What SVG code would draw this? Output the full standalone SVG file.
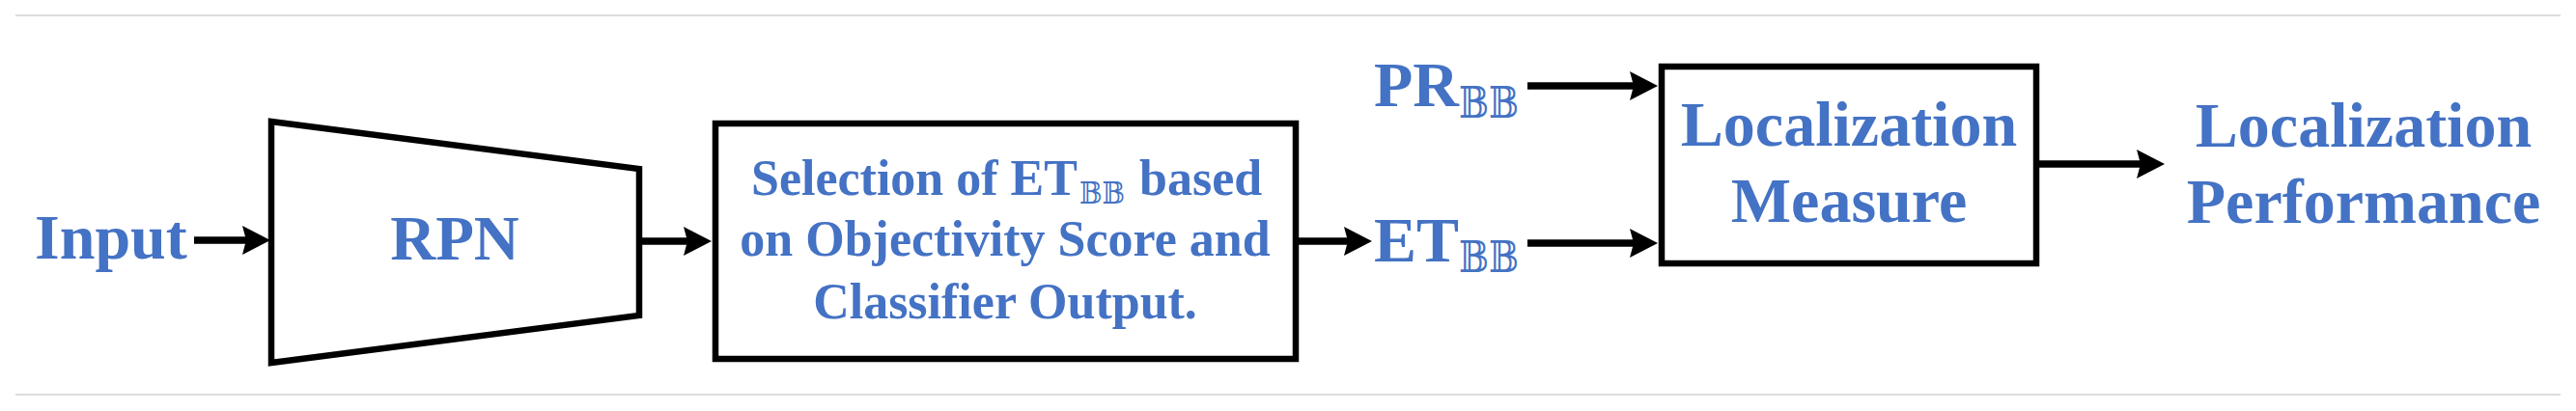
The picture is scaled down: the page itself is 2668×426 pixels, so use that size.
<svg xmlns="http://www.w3.org/2000/svg" width="2668" height="426" viewBox="0 0 2668 426">
<style>
.t{font-family:"Liberation Serif","Times New Roman",serif;font-weight:bold;fill:#4472C4}
.bb{font-family:"DejaVu Serif","DejaVu Sans","Liberation Serif",serif;font-weight:normal;fill:#4472C4}
.box{fill:#fff;stroke:#000;stroke-width:6.5}
.ln{stroke:#000;stroke-width:7.5;fill:none}
.sep{stroke:#d0d0d0;stroke-width:1.5}
</style>
<defs>
<marker id="ah" viewBox="0 0 29 30" refX="5" refY="15" markerWidth="29" markerHeight="30" markerUnits="userSpaceOnUse" orient="auto">
<path d="M0,0 L29,15 L0,30 L4,15 Z" fill="#000"/>
</marker>
</defs>
<rect width="2668" height="426" fill="#fff"/>
<line class="sep" x1="16" y1="16" x2="2652" y2="16"/>
<line class="sep" x1="16" y1="409" x2="2652" y2="409"/>

<g id="input"><text class="t" x="36" y="268" font-size="66">Input</text></g>

<g id="rpn">
<polygon class="box" points="281,126 662,175 662,327 281,376"/>
<text class="t" x="471" y="269" font-size="65" text-anchor="middle">RPN</text>
</g>

<g id="selection">
<rect class="box" x="741" y="128" width="601" height="244"/>
<text class="t" x="778" y="202" font-size="52">Selection of ET</text>
<text class="bb" x="1118" y="211" font-size="31" textLength="47" lengthAdjust="spacingAndGlyphs">𝔹𝔹</text>
<text class="t" x="1180" y="202" font-size="52">based</text>
<text class="t" x="1041" y="265" font-size="52" text-anchor="middle">on Objectivity Score and</text>
<text class="t" x="1041" y="330" font-size="52" text-anchor="middle">Classifier Output.</text>
</g>

<g id="pr_bb">
<text class="t" x="1423" y="110" font-size="66">PR</text>
<text class="bb" x="1511" y="122" font-size="44" textLength="62" lengthAdjust="spacingAndGlyphs">𝔹𝔹</text>
</g>
<g id="et_bb">
<text class="t" x="1423" y="271" font-size="66">ET</text>
<text class="bb" x="1511" y="282" font-size="44" textLength="62" lengthAdjust="spacingAndGlyphs">𝔹𝔹</text>
</g>

<g id="measure">
<rect class="box" x="1721" y="69" width="388" height="204"/>
<text class="t" x="1915" y="151" font-size="66" text-anchor="middle">Localization</text>
<text class="t" x="1915" y="230" font-size="66" text-anchor="middle">Measure</text>
</g>

<g id="performance">
<text class="t" x="2448" y="152" font-size="66" text-anchor="middle">Localization</text>
<text class="t" x="2448" y="231" font-size="66" text-anchor="middle">Performance</text>
</g>

<g id="connectors">
<line class="ln" x1="201" y1="249" x2="256" y2="249" marker-end="url(#ah)"/>
<line class="ln" x1="662" y1="250" x2="713" y2="250" marker-end="url(#ah)"/>
<line class="ln" x1="1342" y1="250" x2="1397" y2="250" marker-end="url(#ah)"/>
<line class="ln" x1="1582" y1="89" x2="1693" y2="89" marker-end="url(#ah)"/>
<line class="ln" x1="1582" y1="252" x2="1693" y2="252" marker-end="url(#ah)"/>
<line class="ln" x1="2109" y1="170" x2="2218" y2="170" marker-end="url(#ah)"/>
</g>
</svg>
